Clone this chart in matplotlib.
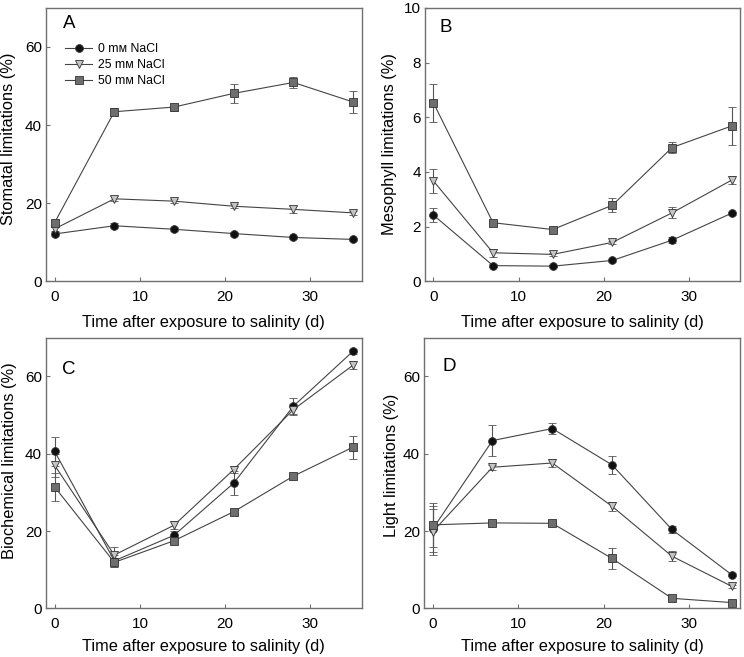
import numpy as np
import matplotlib.pyplot as plt

plt.rcParams['font.family'] = ['Liberation Sans', 'DejaVu Sans']

days = [0, 7, 14, 21, 28, 35]
labels = ['0 m\u043c NaCl', '25 m\u043c NaCl', '50 m\u043c NaCl']

# panel A - stomatal limitations
stom = [[12.1, 14.2, 13.3, 12.2, 11.2, 10.7],
        [13.4, 21.1, 20.5, 19.2, 18.4, 17.5],
        [15.0, 43.4, 44.6, 48.1, 50.9, 45.9]]
stom_err = [[0.5, 0.6, 0.5, 0.5, 0.5, 0.4],
            [0.5, 0.6, 0.5, 0.5, 0.9, 0.6],
            [0.8, 0.9, 0.9, 2.4, 1.3, 2.9]]

# panel B - mesophyll limitations
meso = [[2.42, 0.57, 0.55, 0.76, 1.50, 2.49],
        [3.67, 1.04, 0.98, 1.42, 2.50, 3.70],
        [6.53, 2.14, 1.89, 2.78, 4.89, 5.68]]
meso_err = [[0.27, 0.05, 0.04, 0.05, 0.12, 0.05],
            [0.43, 0.15, 0.05, 0.06, 0.20, 0.16],
            [0.69, 0.07, 0.06, 0.25, 0.20, 0.69]]

# panel C - biochemical limitations
bioc = [[40.6, 12.3, 18.9, 32.4, 52.3, 66.5],
        [37.0, 13.8, 21.5, 35.9, 51.4, 62.9],
        [31.4, 11.9, 17.5, 25.0, 34.2, 41.7]]
bioc_err = [[3.7, 1.5, 1.0, 3.0, 2.0, 0.7],
            [3.0, 2.2, 1.0, 1.0, 1.5, 1.0],
            [3.7, 1.2, 0.6, 0.6, 0.6, 3.0]]

# panel D - light limitations
light = [[20.5, 43.4, 46.5, 37.1, 20.4, 8.7],
         [19.8, 36.5, 37.6, 26.4, 13.5, 5.7],
         [21.6, 22.1, 22.0, 12.9, 2.6, 1.5]]
light_err = [[6.0, 3.9, 1.5, 2.3, 1.0, 0.4],
             [6.0, 0.6, 1.1, 1.2, 1.3, 0.4],
             [5.6, 0.4, 0.5, 2.8, 0.3, 0.3]]

panels = [
    ('A', stom, stom_err, 'Stomatal limitations (%)', 70, [0, 20, 40, 60]),
    ('B', meso, meso_err, 'Mesophyll limitations (%)', 10, [0, 2, 4, 6, 8, 10]),
    ('C', bioc, bioc_err, 'Biochemical limitations (%)', 70, [0, 20, 40, 60]),
    ('D', light, light_err, 'Light limitations (%)', 70, [0, 20, 40, 60]),
]

markers = ['o', 'v', 's']
faces = ['#111111', '#c4c4c4', '#6e6e6e']
msizes = [5.6, 6.2, 5.4]
edge = '#333333'
spine_col = '#707070'

fig = plt.figure(figsize=(7.44, 6.57), dpi=100)
boxes = [(0.062, 0.572, 0.424, 0.416),
         (0.571, 0.572, 0.424, 0.416),
         (0.062, 0.074, 0.424, 0.412),
         (0.570, 0.074, 0.425, 0.412)]
letter_pos = [(0.054, 0.975), (0.045, 0.96), (0.05, 0.915), (0.058, 0.925)]
ylab_pos = [(-0.097, 0.52), (-0.089, 0.5), (-0.092, 0.545), (-0.078, 0.53)]
xlab_pad = [8, 8, 6, 6]

for (letter, vals, errs, ylab, ytop, yt), box, lp, yp, xp in zip(panels, boxes, letter_pos, ylab_pos, xlab_pad):
    ax = fig.add_axes(box)
    handles = []
    for i in range(3):
        eb = ax.errorbar(days, vals[i], yerr=errs[i], color='#444444', lw=0.8,
                         marker=markers[i], ms=msizes[i],
                         mfc=faces[i], mec=edge, mew=0.6,
                         ecolor='#555555', elinewidth=0.8, capsize=2.6, capthick=0.8)
        handles.append(eb.lines[0])
    ax.set_xlim(-1, 36)
    ax.set_ylim(0, ytop)
    ax.set_xticks([0, 10, 20, 30])
    ax.set_yticks(yt)
    ax.tick_params(direction='in', length=3, width=0.8, color=spine_col,
                   labelsize=11)
    ax.tick_params(axis='x', pad=6)
    ax.tick_params(axis='y', pad=3)
    for s in ax.spines.values():
        s.set_color(spine_col)
        s.set_linewidth(1.0)
    ax.set_xlabel('Time after exposure to salinity (d)', fontsize=11.8, labelpad=xp)
    ax.set_ylabel(ylab, fontsize=11.8)
    ax.yaxis.set_label_coords(yp[0], yp[1])
    ax.text(lp[0], lp[1], letter, transform=ax.transAxes, fontsize=13.5,
            va='top', ha='left')
    if letter == 'A':
        ax.legend(handles, labels, loc='upper left', bbox_to_anchor=(0.045, 0.89),
                  frameon=False, fontsize=8.8, handlelength=2.2, handletextpad=0.5,
                  labelspacing=0.35, borderaxespad=0.0)

fig.savefig('out.png', dpi=100)
